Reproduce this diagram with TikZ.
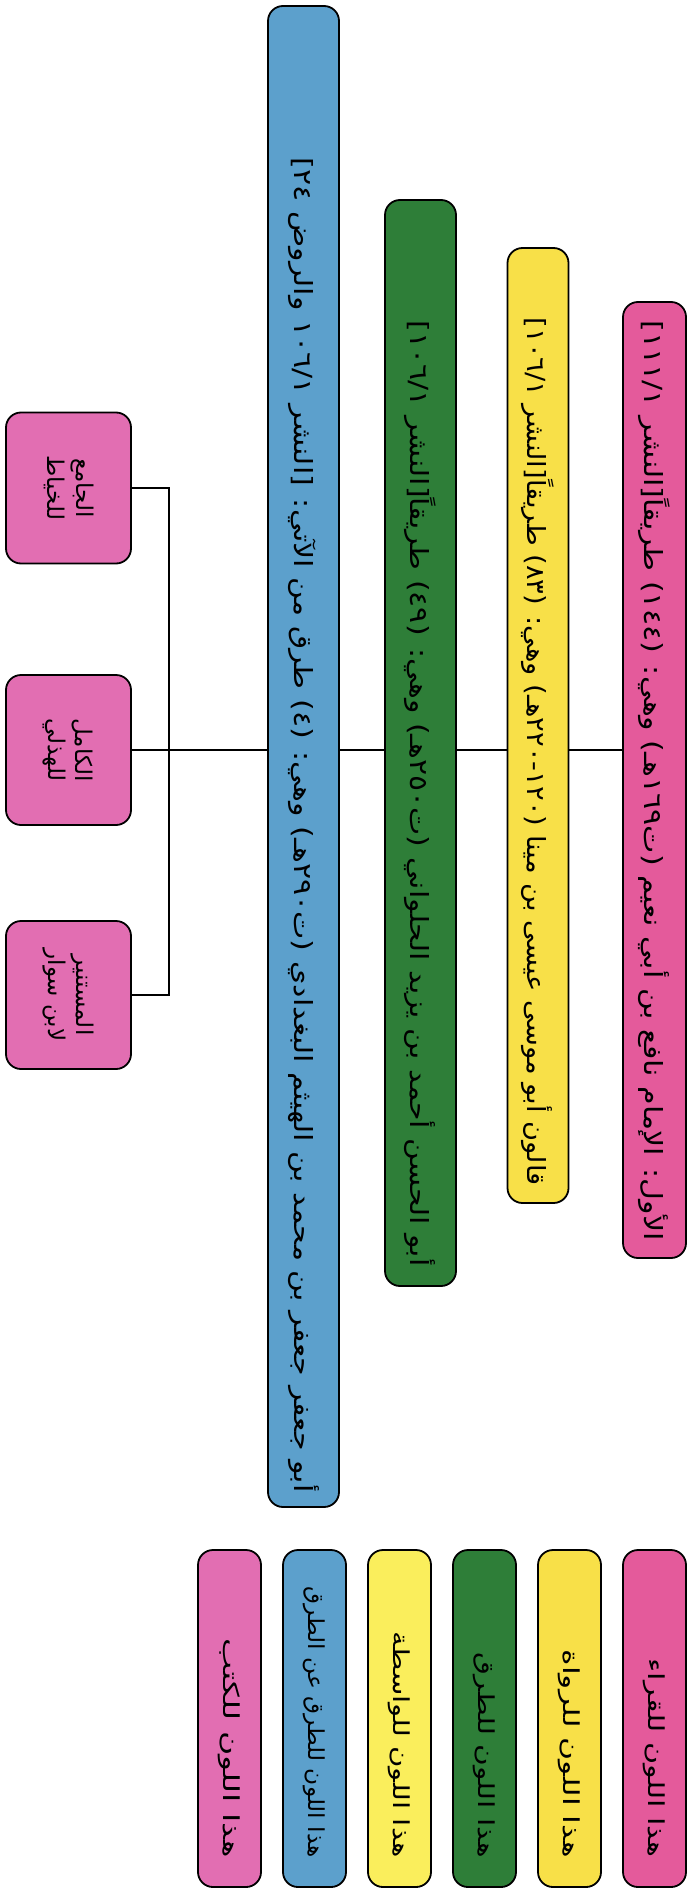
\documentclass[tikz,border=0pt]{standalone}
\usepackage{fontspec}
\newfontfamily\arabicfont[Script=Arabic]{DejaVu Sans}
\TeXXeTstate=1
\usetikzlibrary{backgrounds,calc}
\definecolor{qpink}{RGB}{228,90,155}
\definecolor{ryellow}{RGB}{248,224,72}
\definecolor{wyellow}{RGB}{250,238,92}
\definecolor{tgreen}{RGB}{46,126,56}
\definecolor{tblue}{RGB}{92,160,204}
\definecolor{bpink}{RGB}{226,110,178}
\newsavebox\fitbox
\newcommand\fitto[2]{\sbox\fitbox{#2}\pgfmathsetmacro\fitratio{#1/\the\wd\fitbox}\scalebox{\fitratio}[1]{\usebox\fitbox}}
\newcommand\artxt[3]{\fitto{#1}{\arabicfont\fontsize{#2}{#2}\selectfont #3}}
\begin{document}
\begin{tikzpicture}[x=1pt,y=-1pt,
  card/.style={draw=black, line width=1.8pt, rounded corners=15pt, inner sep=0pt},
  rtxt/.style={rotate=-90, anchor=east, inner sep=0pt},
  btxt/.style={rotate=-90, inner sep=0pt, font=\arabicfont\fontsize{23}{23}\selectfont},
  conn/.style={draw=black, line width=1.3pt}]
\useasboundingbox (0,0) rectangle (693,1897);

% main column boxes
\node[card, fill=qpink,   minimum width=63pt, minimum height=956pt]  (qari)  at (654.5,780) {};
\node[card, fill=ryellow, minimum width=61pt, minimum height=955pt]  (rawi)  at (538,725.5) {};
\node[card, fill=tgreen,  minimum width=71pt, minimum height=1086pt] (tariq) at (420.5,743) {};
\node[card, fill=tblue,   minimum width=71pt, minimum height=1501pt] (ttariq) at (303.5,756.5) {};

\node[rtxt] (qaritxt) at ([yshift=18pt]qari.south)
  {\artxt{920}{25}{\beginR الأول: الإمام نافع بن أبي نعيم (ت١٦٩هـ) وهي: (١٤٤) طريقاً[النشر ١١١/١]\endR}};
\node[rtxt] (rawitxt) at ([yshift=18pt]rawi.south)
  {\artxt{868}{25}{\beginR قالون أبو موسى عيسى بن مينا (١٢٠-٢٢٠هـ) وهي: (٨٣) طريقاً[النشر ١٠٦/١]\endR}};
\node[rtxt] (tariqtxt) at ([yshift=20pt]tariq.south)
  {\artxt{946}{25}{\beginR أبو الحسن أحمد بن يزيد الحلواني (ت٢٥٠هـ) وهي: (٤٩) طريقاً[النشر ١٠٦/١]\endR}};
\node[rtxt] (ttariqtxt) at ([yshift=15pt]ttariq.south)
  {\artxt{1335}{25}{\beginR أبو جعفر جعفر بن محمد بن الهيثم البغدادي (ت٢٩٠هـ) وهي: (٤) طرق من الآتي: [النشر ١٠٦/١ والروض ٢٤]\endR}};

% book boxes
\node[card, fill=bpink, minimum width=125pt, minimum height=151pt] (b1) at (68.5,488) {};
\node[card, fill=bpink, minimum width=125pt, minimum height=150pt] (b2) at (68.5,750) {};
\node[card, fill=bpink, minimum width=125pt, minimum height=148pt] (b3) at (68.5,995) {};
\node[btxt] (b1a) at ([xshift=14pt]b1.center) {\beginR الجامع\endR};
\node[btxt] (b1b) at ([xshift=-14pt]b1.center) {\beginR للخياط\endR};
\node[btxt] (b2a) at ([xshift=14pt]b2.center) {\beginR الكامل\endR};
\node[btxt] (b2b) at ([xshift=-14pt]b2.center) {\beginR للهذلي\endR};
\node[btxt] (b3a) at ([xshift=14pt]b3.center) {\beginR المستنير\endR};
\node[btxt] (b3b) at ([xshift=-14pt]b3.center) {\beginR لابن سوار\endR};

\coordinate (j) at (169,750);

% legend
\node[card, fill=qpink,   minimum width=63pt, minimum height=337pt] (l1) at (654.5,1718.5) {};
\node[card, fill=ryellow, minimum width=63pt, minimum height=337pt] (l2) at (569.5,1718.5) {};
\node[card, fill=tgreen,  minimum width=63pt, minimum height=337pt] (l3) at (484.5,1718.5) {};
\node[card, fill=wyellow, minimum width=63pt, minimum height=337pt] (l4) at (399.5,1718.5) {};
\node[card, fill=tblue,   minimum width=63pt, minimum height=337pt] (l5) at (314.5,1718.5) {};
\node[card, fill=bpink,   minimum width=63pt, minimum height=337pt] (l6) at (229.5,1718.5) {};
\node[rtxt] (l1t) at ([yshift=30pt]l1.south) {\artxt{199}{22}{\beginR هذا اللون للقراء\endR}};
\node[rtxt] (l2t) at ([yshift=30pt]l2.south) {\artxt{208}{22}{\beginR هذا اللون للرواة\endR}};
\node[rtxt] (l3t) at ([yshift=30pt]l3.south) {\artxt{205}{22}{\beginR هذا اللون للطرق\endR}};
\node[rtxt] (l4t) at ([yshift=30pt]l4.south) {\artxt{226}{22}{\beginR هذا اللون للواسطة\endR}};
\node[rtxt] (l5t) at ([yshift=30pt]l5.south) {\artxt{271}{22}{\beginR هذا اللون للطرق عن الطرق\endR}};
\node[rtxt] (l6t) at ([yshift=30pt]l6.south) {\artxt{219}{22}{\beginR هذا اللون للكتب\endR}};

\begin{pgfonlayer}{background}
\fill[white] (0,0) rectangle (693,1897);
\draw[conn] (b1.east) -| (j) |- (b3.east);
\draw[conn] (b2.east) -- (qari.west |- b2.east);
\end{pgfonlayer}
\end{tikzpicture}
\end{document}
